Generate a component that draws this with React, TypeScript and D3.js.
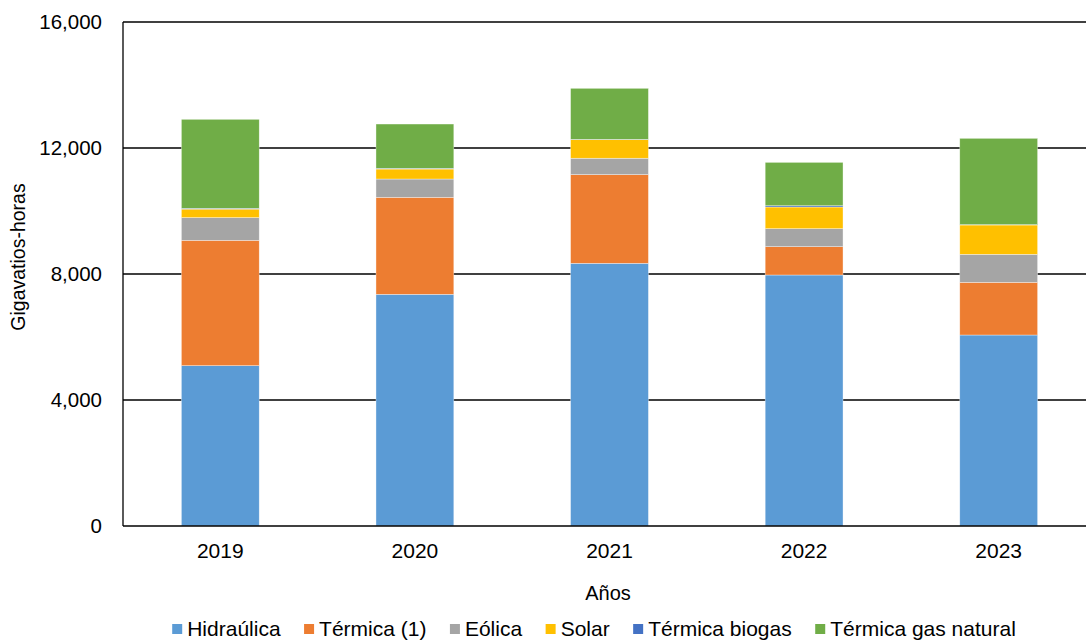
import React, { useEffect, useRef } from "react";
import * as d3 from "d3";

const years = ["2019", "2020", "2021", "2022", "2023"];
const seriesNames = ["Hidraúlica", "Térmica (1)", "Eólica", "Solar", "Térmica biogas", "Térmica gas natural"];
const hidraulica = [5090, 7355, 8340, 7968, 6063];
const termica = [3980, 3080, 2815, 900, 1673];
const eolica = [720, 580, 520, 571, 889];
const solar = [270, 317, 590, 688, 931];
const biogas = [25, 22, 10, 40, 10];
const gasNatural = [2826, 1407, 1620, 1377, 2741];
const yTicks = [0, 4000, 8000, 12000, 16000];
const colors = ["#5B9BD5", "#ED7D31", "#A5A5A5", "#FFC000", "#4472C4", "#70AD47"];

const W = 1086, H = 641;
const M = { left: 123, right: 1096, top: 22, bottom: 526 };
const FONT = "Liberation Sans, Arial, sans-serif";

export default function App() {
  const ref = useRef<SVGSVGElement>(null);
  useEffect(() => {
    const svg = d3.select(ref.current);
    svg.selectAll("*").remove();
    const seriesVals = [hidraulica, termica, eolica, solar, biogas, gasNatural];
    const rows = years.map((y, i) => {
      const r: any = { year: y };
      seriesNames.forEach((s, k) => (r[s] = seriesVals[k][i]));
      return r;
    });
    const stack = d3.stack().keys(seriesNames)(rows as any);
    const x = d3.scaleBand().domain(years).range([M.left, M.right]).paddingInner(0.6).paddingOuter(0.3);
    const y = d3.scaleLinear().domain([0, 16000]).range([M.bottom, M.top]);

    // gridlines
    svg.append("g").selectAll("line").data(yTicks.filter((t) => t > 0)).join("line")
      .attr("x1", M.left).attr("x2", W).attr("y1", (d) => y(d)).attr("y2", (d) => y(d))
      .attr("stroke", "#000").attr("stroke-width", 1.3);

    // bars
    svg.append("g").selectAll("g").data(stack).join("g")
      .attr("fill", (_d, i) => colors[i])
      .selectAll("rect").data((d) => d).join("rect")
      .attr("x", (d: any) => x(d.data.year)!)
      .attr("width", x.bandwidth())
      .attr("y", (d) => y(d[1]))
      .attr("height", (d) => Math.max(0, y(d[0]) - y(d[1])))
      .attr("stroke", "rgba(255,255,255,0.6)").attr("stroke-width", 0.6);

    // axes lines
    svg.append("line").attr("x1", M.left).attr("x2", M.left).attr("y1", M.top).attr("y2", M.bottom)
      .attr("stroke", "#000").attr("stroke-width", 1.3);
    svg.append("line").attr("x1", M.left).attr("x2", W).attr("y1", M.bottom).attr("y2", M.bottom)
      .attr("stroke", "#000").attr("stroke-width", 1.3);

    // y tick labels
    svg.append("g").selectAll("text").data(yTicks).join("text")
      .attr("x", 102).attr("y", (d) => y(d)).attr("dy", "0.35em")
      .attr("text-anchor", "end").attr("font-family", FONT).attr("font-size", 20.5).attr("fill", "#000")
      .text((d) => d3.format(",")(d));

    // x tick labels
    svg.append("g").selectAll("text").data(years).join("text")
      .attr("x", (d) => x(d)! + x.bandwidth() / 2).attr("y", 558)
      .attr("text-anchor", "middle").attr("font-family", FONT).attr("font-size", 21).attr("fill", "#000")
      .text((d) => d);

    // axis titles
    svg.append("text").attr("x", 608).attr("y", 600).attr("text-anchor", "middle")
      .attr("font-family", FONT).attr("font-size", 20).attr("fill", "#000").text("Años");
    svg.append("text").attr("transform", "translate(25,257) rotate(-90)").attr("text-anchor", "middle")
      .attr("font-family", FONT).attr("font-size", 19.5).attr("fill", "#000").text("Gigavatios-horas");

    // legend
    const lg = svg.append("g");
    const items = lg.selectAll("g").data(seriesNames).join("g");
    items.append("rect").attr("width", 10).attr("height", 10).attr("y", 624).attr("fill", (_d, i) => colors[i]);
    items.append("text").attr("x", 15).attr("y", 636).attr("font-family", FONT).attr("font-size", 21)
      .attr("fill", "#000").text((d) => d);
    const widths: number[] = [];
    items.each(function () {
      const t = d3.select(this).select("text").node() as SVGTextElement;
      widths.push(15 + t.getComputedTextLength());
    });
    const gap = 23.5;
    const total = d3.sum(widths) + gap * (widths.length - 1);
    let cx = 594 - total / 2;
    items.attr("transform", (_d, i) => {
      const tx = cx;
      cx += widths[i] + gap;
      return `translate(${tx},0)`;
    });
  }, []);
  return (
    <svg ref={ref} width={W} height={H} style={{ position: "absolute", left: 0, top: 0, background: "#fff" }} />
  );
}
